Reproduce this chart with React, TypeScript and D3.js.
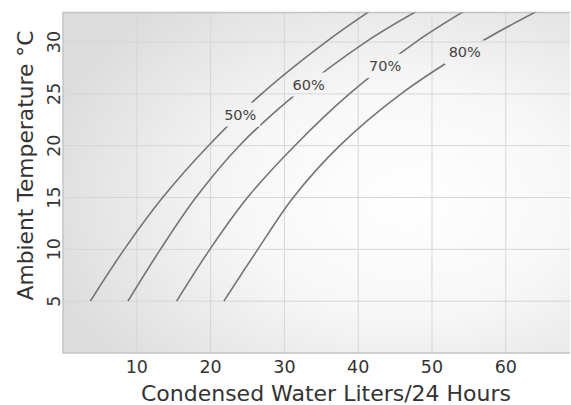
import { useEffect, useRef } from "react";
import * as d3 from "d3";

// ambient temperature (°C) at which the curves were read
const temps = [5, 10, 15, 20, 25, 30, 33];

// condensed water (liters / 24h) for each relative humidity curve
const rh50 = [3.7, 8.3, 13.5, 19.7, 26.9, 35.6, 41.6];
const rh60 = [8.8, 13.2, 18.0, 23.9, 31.6, 41.0, 48.0];
const rh70 = [15.4, 19.9, 25.0, 31.4, 38.8, 47.8, 54.4];
const rh80 = [21.8, 26.4, 31.2, 37.5, 45.8, 56.6, 64.3];

const curveLabels = ["50%", "60%", "70%", "80%"];
const labelTemps = [23.0, 25.9, 27.7, 29.0];

const xTicks = [10, 20, 30, 40, 50, 60];
const yTicks = [5, 10, 15, 20, 25, 30];

const W = 571;
const H = 405;
const FONT = "'DejaVu Sans', Verdana, sans-serif";

const Chart = () => {
  const svgRef = useRef(null);

  useEffect(() => {
    const svg = d3.select(svgRef.current);
    svg.selectAll("*").remove();

    const margin = { top: 12.5, right: 1, bottom: 52, left: 63 };
    const x = d3
      .scaleLinear()
      .domain([0, 68.7])
      .range([margin.left, W - margin.right]);
    const y = d3
      .scaleLinear()
      .domain([0, 32.85])
      .range([H - margin.bottom, margin.top]);

    const series = [rh50, rh60, rh70, rh80].map((values, i) => ({
      label: curveLabels[i],
      values,
      labelTemp: labelTemps[i],
    }));

    const defs = svg.append("defs");
    const grad = defs
      .append("radialGradient")
      .attr("id", "bg")
      .attr("cx", "68%")
      .attr("cy", "55%")
      .attr("r", "75%");
    grad.append("stop").attr("offset", "0%").attr("stop-color", "#ffffff");
    grad.append("stop").attr("offset", "45%").attr("stop-color", "#f7f7f7");
    grad.append("stop").attr("offset", "100%").attr("stop-color", "#dcdcdc");

    defs
      .append("clipPath")
      .attr("id", "plot-clip")
      .append("rect")
      .attr("x", x(0))
      .attr("y", y(32.85))
      .attr("width", x(68.7) - x(0))
      .attr("height", y(0) - y(32.85));

    // knock the curves out behind their labels
    const mask = defs
      .append("mask")
      .attr("id", "label-gaps")
      .attr("maskUnits", "userSpaceOnUse")
      .attr("x", 0)
      .attr("y", 0)
      .attr("width", W)
      .attr("height", H);
    mask
      .append("rect")
      .attr("width", W)
      .attr("height", H)
      .attr("fill", "white");

    const labelPos = series.map((s) => {
      const interp = d3.scaleLinear().domain(temps).range(s.values);
      return [x(interp(s.labelTemp)), y(s.labelTemp)];
    });

    mask
      .selectAll("rect.gap")
      .data(labelPos)
      .join("rect")
      .attr("class", "gap")
      .attr("x", (d) => d[0] - 20)
      .attr("y", (d) => d[1] - 12)
      .attr("width", 40)
      .attr("height", 24)
      .attr("fill", "black");

    // plot background
    svg
      .append("rect")
      .attr("x", x(0))
      .attr("y", y(32.85))
      .attr("width", x(68.7) - x(0))
      .attr("height", y(0) - y(32.85))
      .attr("fill", "url(#bg)");

    const grid = svg.append("g").attr("stroke", "#d6d6d6").attr("stroke-width", 1);
    grid
      .selectAll("line.vx")
      .data(xTicks)
      .join("line")
      .attr("x1", (d) => x(d))
      .attr("x2", (d) => x(d))
      .attr("y1", y(0))
      .attr("y2", y(32.85));
    grid
      .selectAll("line.hy")
      .data(yTicks)
      .join("line")
      .attr("x1", x(0))
      .attr("x2", x(68.7))
      .attr("y1", (d) => y(d))
      .attr("y2", (d) => y(d));

    // frame
    svg
      .append("path")
      .attr("d", `M${x(68.7)},${y(32.85)}H${x(0)}V${y(0)}H${x(68.7)}`)
      .attr("fill", "none")
      .attr("stroke", "#c4c4c4")
      .attr("stroke-width", 1.5);

    const line = d3
      .line<number>()
      .x((d) => x(d))
      .y((d, i) => y(temps[i]))
      .curve(d3.curveCatmullRom);

    svg
      .append("g")
      .attr("clip-path", "url(#plot-clip)")
      .append("g")
      .attr("mask", "url(#label-gaps)")
      .selectAll("path")
      .data(series)
      .join("path")
      .attr("d", (s) => line(s.values))
      .attr("fill", "none")
      .attr("stroke", "#747474")
      .attr("stroke-width", 1.6);

    svg
      .append("g")
      .selectAll("text")
      .data(series)
      .join("text")
      .attr("x", (s, i) => labelPos[i][0])
      .attr("y", (s, i) => labelPos[i][1])
      .attr("text-anchor", "middle")
      .attr("dominant-baseline", "central")
      .attr("font-family", FONT)
      .attr("font-size", 14.5)
      .attr("fill", "#444")
      .text((s) => s.label);

    // x tick labels
    svg
      .append("g")
      .selectAll("text")
      .data(xTicks)
      .join("text")
      .attr("x", (d) => x(d))
      .attr("y", 373)
      .attr("text-anchor", "middle")
      .attr("font-family", FONT)
      .attr("font-size", 17.5)
      .attr("fill", "#333")
      .text((d) => d);

    // y tick labels (rotated)
    svg
      .append("g")
      .selectAll("text")
      .data(yTicks)
      .join("text")
      .attr("transform", (d) => `translate(59.5,${y(d)}) rotate(-90)`)
      .attr("text-anchor", "middle")
      .attr("font-family", FONT)
      .attr("font-size", 17.5)
      .attr("fill", "#333")
      .text((d) => d);

    svg
      .append("text")
      .attr("x", 326)
      .attr("y", 401)
      .attr("text-anchor", "middle")
      .attr("font-family", FONT)
      .attr("font-size", 22)
      .attr("fill", "#333")
      .text("Condensed Water Liters/24 Hours");

    svg
      .append("text")
      .attr("transform", "translate(33,165.5) rotate(-90)")
      .attr("text-anchor", "middle")
      .attr("font-family", FONT)
      .attr("font-size", 21.8)
      .attr("fill", "#333")
      .text("Ambient Temperature °C");
  }, []);

  return (
    <svg
      ref={svgRef}
      width={W}
      height={H}
      style={{ position: "absolute", left: 0, top: 0, background: "#fff" }}
    />
  );
};

export default function App() {
  return <Chart />;
}
